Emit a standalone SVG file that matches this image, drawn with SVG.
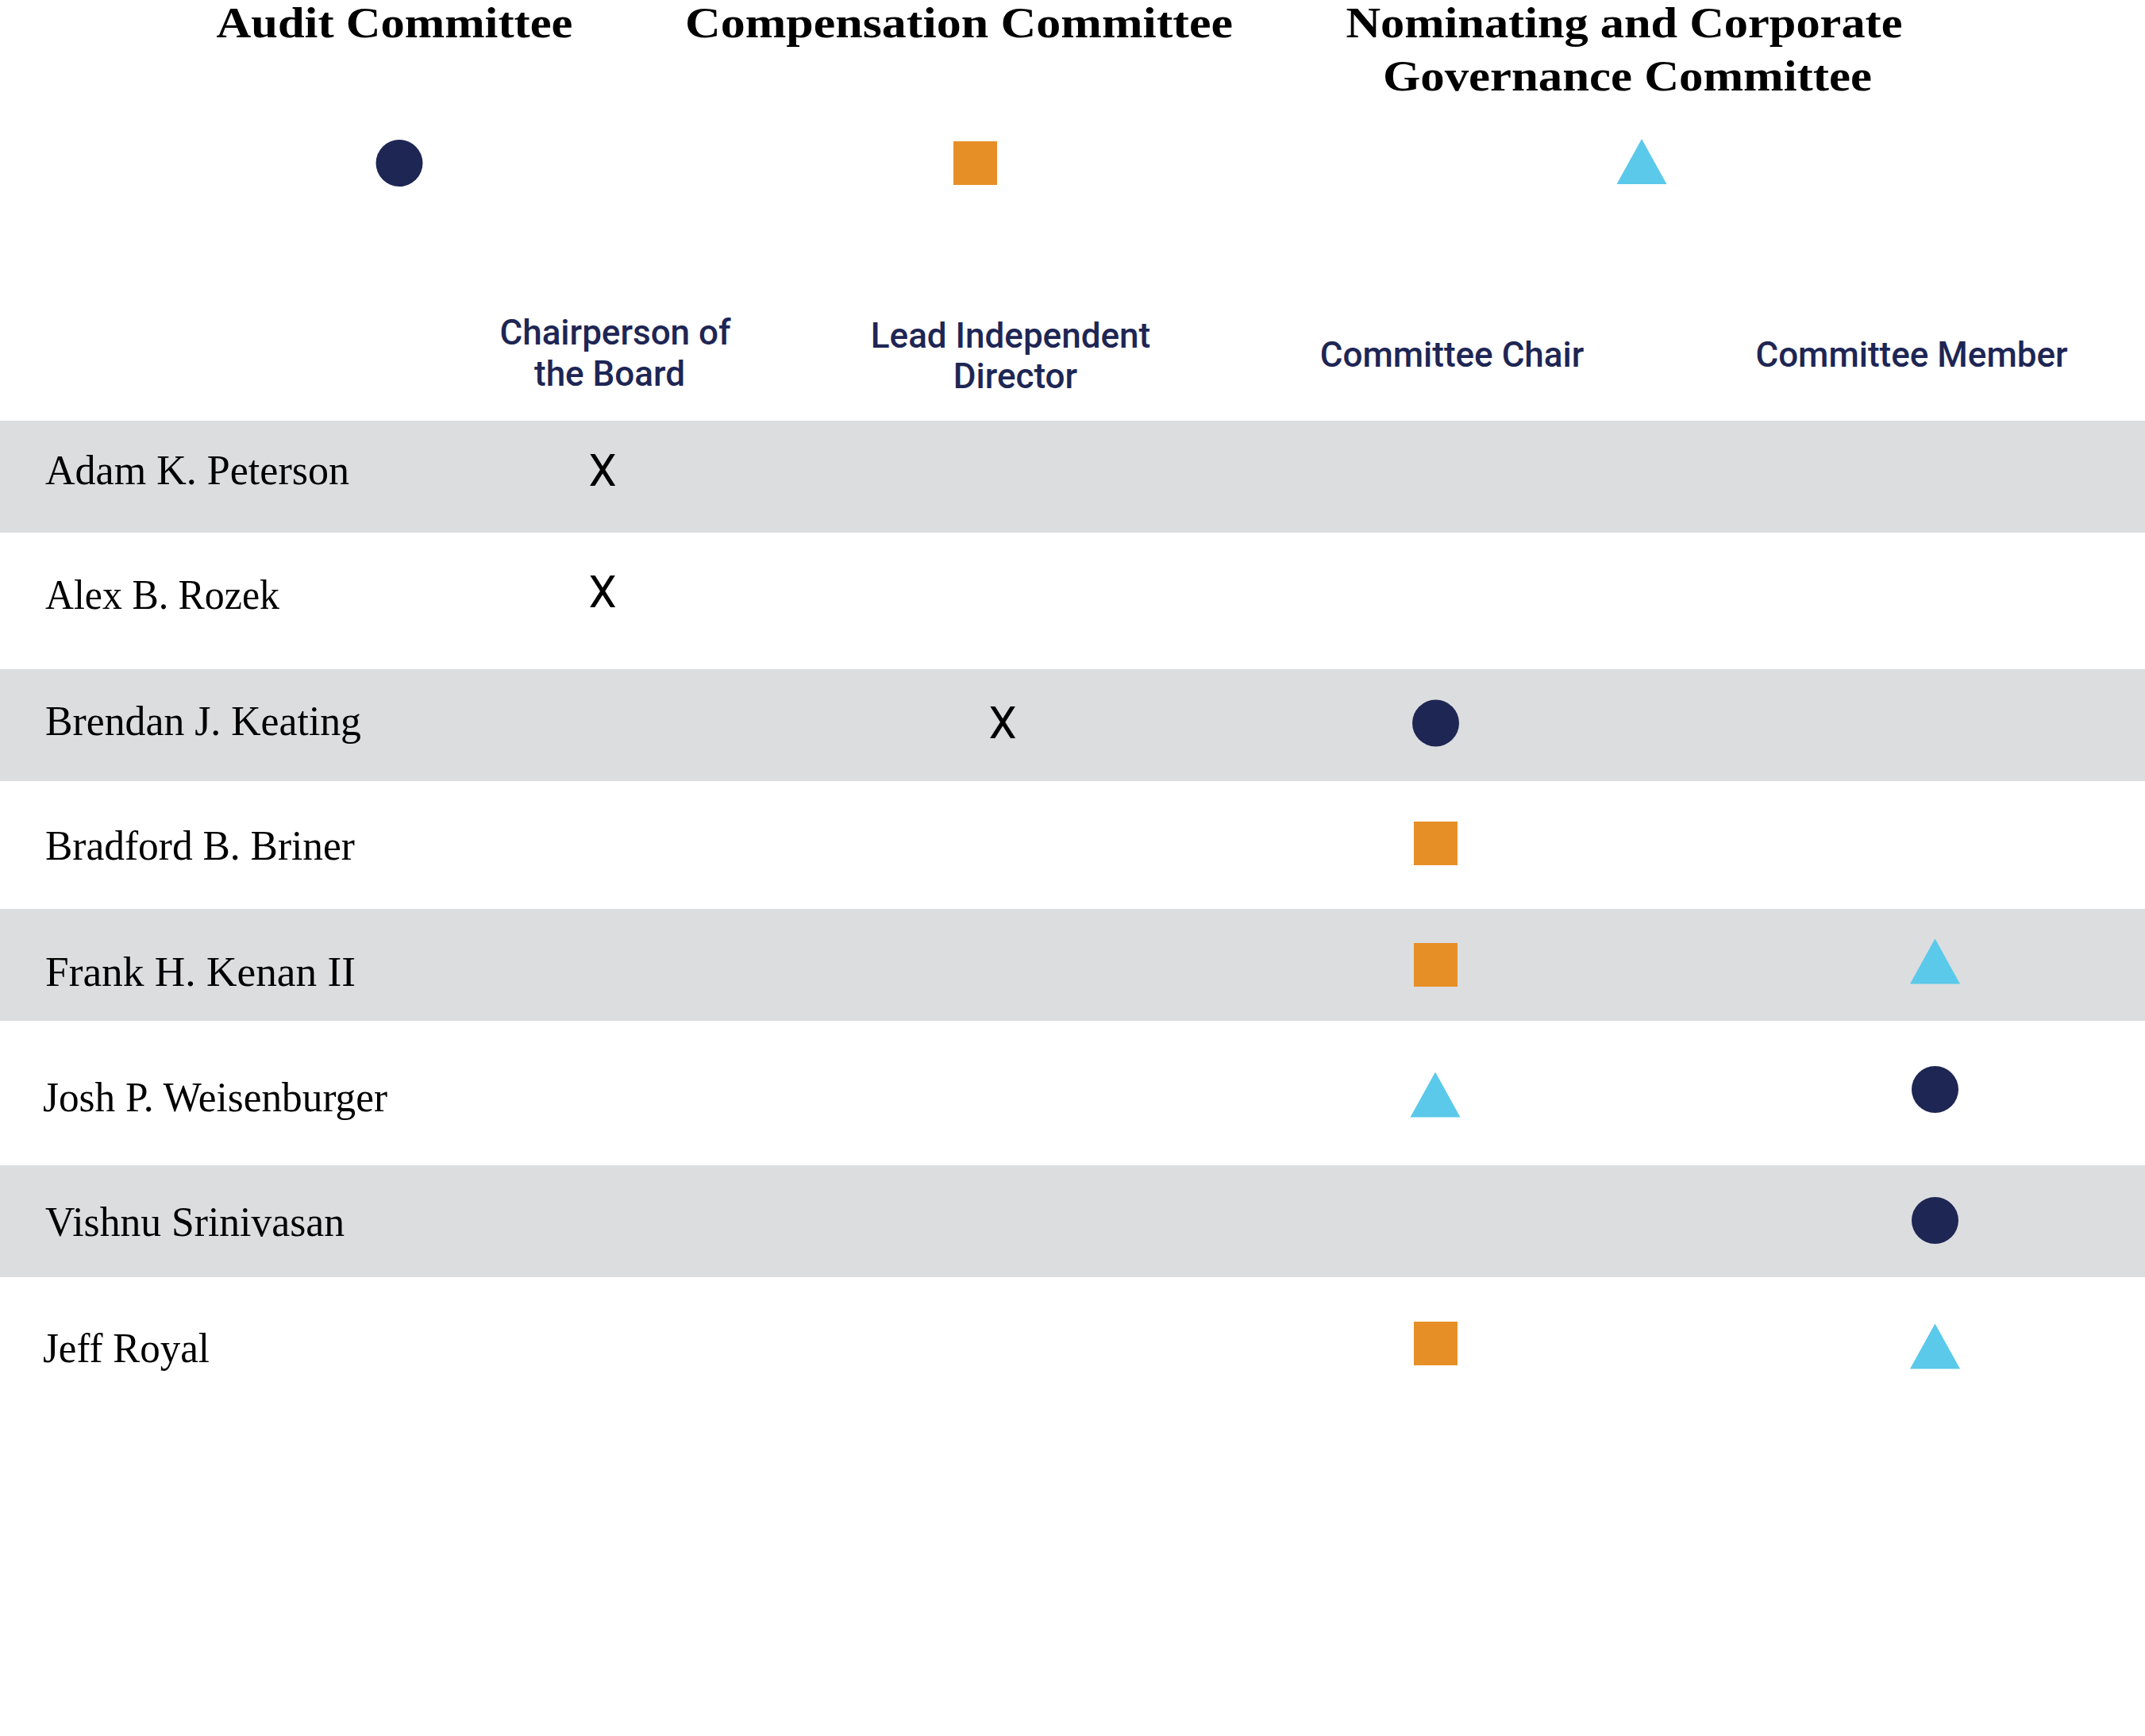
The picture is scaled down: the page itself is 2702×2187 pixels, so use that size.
<svg xmlns="http://www.w3.org/2000/svg" xmlns:xlink="http://www.w3.org/1999/xlink" width="2702" height="2187" viewBox="0 0 2702 2187">
  <style>
    .title { font-family: "Liberation Serif", "Times New Roman", serif; font-weight: bold; font-size: 55px; fill: #000000; text-anchor: middle; }
    .colhead { font-family: Roboto, "Liberation Sans", Arial, sans-serif; font-weight: 500; font-size: 44px; fill: #1E2654; text-anchor: middle; }
    .name { font-family: "Liberation Serif", "Times New Roman", serif; font-size: 52px; fill: #000000; }
    .mark { font-family: Roboto, "Liberation Sans", Arial, sans-serif; font-size: 56px; fill: #000000; text-anchor: middle; }
    .band { fill: #DCDDDF; }
    .audit { fill: #1E2654; }
    .comp { fill: #E68F27; }
    .nom { fill: #5BC9EA; }
  </style>
  <defs>
    <circle id="dot" cx="0" cy="0" r="29.5"/>
    <rect id="sq" x="-27.5" y="-27.5" width="55" height="55"/>
    <path id="tri" d="M0,-28.5 L31.5,28.5 L-31.5,28.5 Z"/>
  </defs>
  <rect x="0" y="0" width="2702" height="2187" fill="#FFFFFF"/>

  <g id="legend-audit">
    <text class="title" x="497" y="47" textLength="449" lengthAdjust="spacingAndGlyphs">Audit Committee</text>
    <use href="#dot" class="audit" x="503" y="205.5"/>
  </g>
  <g id="legend-compensation">
    <text class="title" x="1208" y="47" textLength="690" lengthAdjust="spacingAndGlyphs">Compensation Committee</text>
    <use href="#sq" class="comp" x="1228.5" y="205.5"/>
  </g>
  <g id="legend-nominating">
    <text class="title" x="2046" y="47" textLength="701" lengthAdjust="spacingAndGlyphs">Nominating and Corporate</text>
    <text class="title" x="2050" y="114" textLength="616" lengthAdjust="spacingAndGlyphs">Governance Committee</text>
    <use href="#tri" class="nom" x="2068" y="203.6"/>
  </g>

  <g id="column-headers">
    <text class="colhead" x="775" y="434">Chairperson of</text>
    <text class="colhead" x="768" y="486">the Board</text>
    <text class="colhead" x="1273" y="437.5">Lead Independent</text>
    <text class="colhead" x="1279" y="489">Director</text>
    <text class="colhead" x="1829" y="462">Committee Chair</text>
    <text class="colhead" x="2408" y="462">Committee Member</text>
  </g>

  <g id="row-peterson">
    <rect class="band" x="0" y="530" width="2702" height="141"/>
    <text class="name" x="57" y="610" textLength="383" lengthAdjust="spacingAndGlyphs">Adam K. Peterson</text>
    <text class="mark" x="759" y="612">X</text>
  </g>
  <g id="row-rozek">
    <text class="name" x="57" y="767" textLength="295" lengthAdjust="spacingAndGlyphs">Alex B. Rozek</text>
    <text class="mark" x="759" y="765">X</text>
  </g>
  <g id="row-keating">
    <rect class="band" x="0" y="843" width="2702" height="141"/>
    <text class="name" x="57" y="926" textLength="398" lengthAdjust="spacingAndGlyphs">Brendan J. Keating</text>
    <text class="mark" x="1263" y="929.5">X</text>
    <use href="#dot" class="audit" x="1808.5" y="911"/>
  </g>
  <g id="row-briner">
    <text class="name" x="57" y="1082.5" textLength="390" lengthAdjust="spacingAndGlyphs">Bradford B. Briner</text>
    <use href="#sq" class="comp" x="1808.5" y="1062.5"/>
  </g>
  <g id="row-kenan">
    <rect class="band" x="0" y="1145" width="2702" height="141"/>
    <text class="name" x="57" y="1242" textLength="391" lengthAdjust="spacingAndGlyphs">Frank H. Kenan II</text>
    <use href="#sq" class="comp" x="1808.5" y="1215.5"/>
    <use href="#tri" class="nom" x="2437.5" y="1211"/>
  </g>
  <g id="row-weisenburger">
    <text class="name" x="54" y="1400" textLength="434" lengthAdjust="spacingAndGlyphs">Josh P. Weisenburger</text>
    <use href="#tri" class="nom" x="1808" y="1379"/>
    <use href="#dot" class="audit" x="2437.5" y="1372.5"/>
  </g>
  <g id="row-srinivasan">
    <rect class="band" x="0" y="1468" width="2702" height="141"/>
    <text class="name" x="57" y="1557" textLength="377" lengthAdjust="spacingAndGlyphs">Vishnu Srinivasan</text>
    <use href="#dot" class="audit" x="2437.5" y="1537.5"/>
  </g>
  <g id="row-royal">
    <text class="name" x="54" y="1716" textLength="210" lengthAdjust="spacingAndGlyphs">Jeff Royal</text>
    <use href="#sq" class="comp" x="1808.5" y="1692.5"/>
    <use href="#tri" class="nom" x="2437.5" y="1696"/>
  </g>

  <g id="connectors"></g>
</svg>
